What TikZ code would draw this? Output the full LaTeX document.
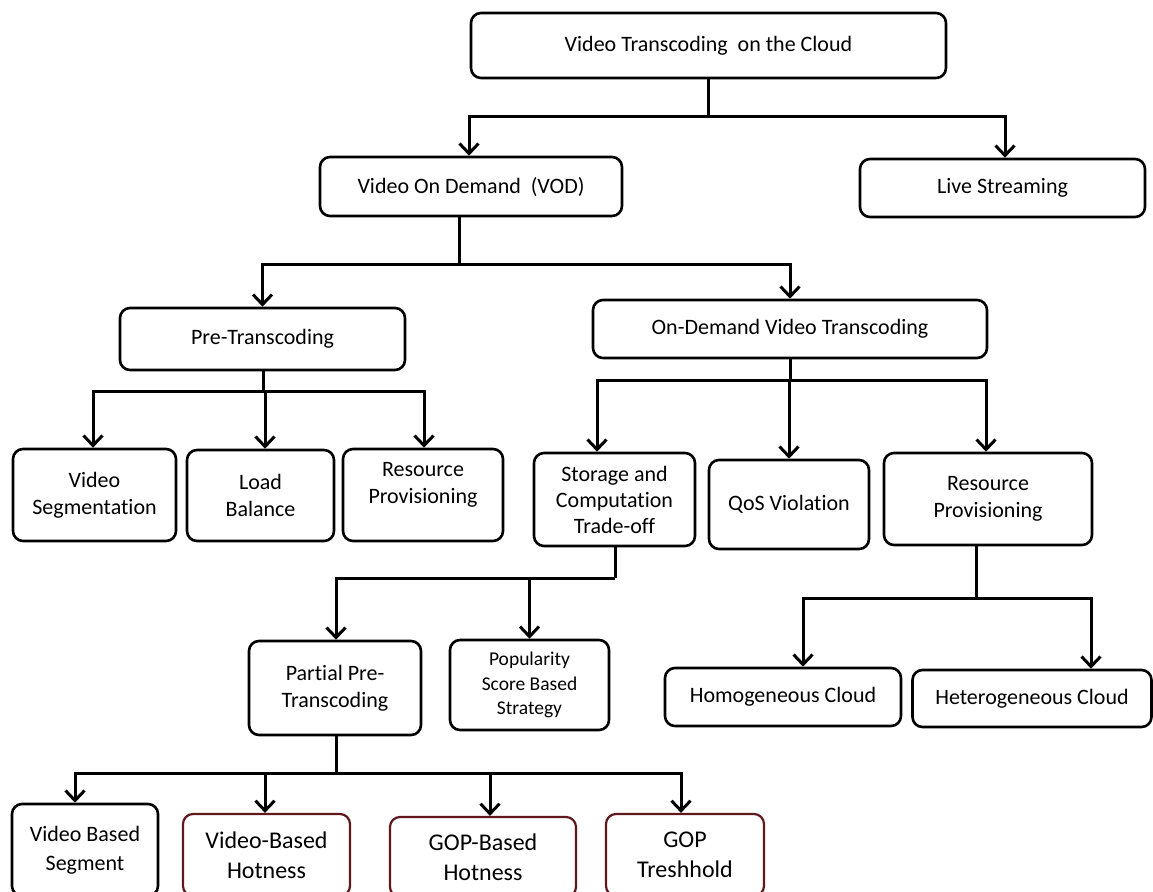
\documentclass[tikz,border=0pt]{standalone}
\usepackage{fontspec}
\setmainfont{Carlito}[Ligatures={NoCommon}]
\usetikzlibrary{arrows.meta}
\definecolor{boxred}{RGB}{95,25,30}
\tikzset{
  box/.style={draw=black, line width=2.6pt, rounded corners=10pt, align=center,
    inner sep=0pt, font=\fontsize{22}{27}\selectfont},
  redbox/.style={box, draw=boxred, line width=2.2pt},
  bigtxt/.style={font=\fontsize{24}{30}\selectfont},
  midtxt/.style={font=\fontsize{22}{29}\selectfont},
  smalltxt/.style={font=\fontsize{19.5}{24.5}\selectfont},
  conn/.style={line width=3pt},
  arr/.style={conn, -{Straight Barb[length=10pt,width=19pt,line width=3pt]}},
}
\begin{document}
\begin{tikzpicture}[x=1pt,y=-1pt]
\useasboundingbox (0,0) rectangle (1153,891);
\clip (0,0) rectangle (1153,891);
\fill[white] (0,0) rectangle (1153,891);

% nodes
\node[box, minimum width=475, minimum height=65] (root) at (708.5,45.5) {Video Transcoding~ on the Cloud};
\node[box, minimum width=302, minimum height=59] (vod) at (471,186.5) {Video On Demand~ (VOD)};
\node[box, minimum width=285, minimum height=58] (live) at (1002.5,188) {Live Streaming};
\node[box, minimum width=285, minimum height=62] (pre) at (262.5,339) {Pre-Transcoding};
\node[box, minimum width=394, minimum height=58] (odt) at (790,329) {On-Demand Video Transcoding};
\node[box, minimum width=163, minimum height=92] (vseg) at (94.5,495) {Video\\Segmentation};
\node[box, minimum width=147, minimum height=91] (load) at (260.5,495.5) {Load\\Balance};
\node[box, minimum width=160, minimum height=92] (resa) at (423,495) {Resource\\Provisioning\\[-10pt]\strut};
\node[box, minimum width=161, minimum height=93] (stor) at (614.5,499.5) {Storage and\\[-1pt]Computation\\[-1pt]Trade-off};
\node[box, minimum width=160, minimum height=89] (qos) at (789,504.5) {QoS Violation};
\node[box, minimum width=208, minimum height=92] (resb) at (988,499) {Resource\\Provisioning};
\node[box, minimum width=172, minimum height=94] (part) at (335,688) {Partial Pre-\\Transcoding};
\node[box, smalltxt, minimum width=159, minimum height=90] (pop) at (529.5,685) {Popularity\\Score Based\\Strategy};
\node[box, minimum width=236, minimum height=58] (homo) at (783,697) {Homogeneous Cloud};
\node[box, minimum width=239, minimum height=57] (het) at (1032,698.5) {Heterogeneous Cloud};
\node[box, midtxt, minimum width=146, minimum height=92] (vbs) at (85,850) {Video Based\\Segment};
\node[redbox, bigtxt, minimum width=167, minimum height=82] (vbh) at (266.5,855) {Video-Based\\Hotness};
\node[redbox, bigtxt, minimum width=186, minimum height=80] (gbh) at (483,857) {GOP-Based\\Hotness};
\node[redbox, bigtxt, minimum width=158, minimum height=82] (gth) at (685,855) {GOP\\Treshhold};

% junctions
\coordinate (j0) at (708,116);
\coordinate (j1) at (459,264);
\coordinate (j2) at (263,391);
\coordinate (j3) at (790,380);
\coordinate (j4) at (615,578);
\coordinate (j5) at (976,598);
\coordinate (j6) at (336,773);

% connectors
\draw[conn] (root.south -| j0) -- (j0);
\draw[arr] (j0) -| ([xshift=-2]vod.north);
\draw[arr] (j0) -| ([xshift=2.5]live.north);

\draw[conn] (vod.south -| j1) -- (j1);
\draw[arr] (j1) -| (pre.north);
\draw[arr] (j1) -| (odt.north);

\draw[conn] (pre.south -| j2) -- (j2);
\draw[arr] (j2) -| ([xshift=-1.5]vseg.north);
\draw[arr] (j2) -| ([xshift=4.5]load.north);
\draw[arr] (j2) -| ([xshift=1]resa.north);

\draw[conn] (odt.south -| j3) -- (j3);
\draw[arr] (j3) -| ([xshift=-17.5]stor.north);
\draw[arr] (j3) -| (qos.north);
\draw[arr] (j3) -| ([xshift=-2]resb.north);

\draw[conn] (stor.south -| j4) -- (j4);
\draw[arr] (j4) -| ([xshift=1]part.north);
\draw[arr] (j4) -| (pop.north);

\draw[conn] (resb.south -| j5) -- (j5);
\draw[arr] (j5) -| ([xshift=20]homo.north);
\draw[arr] (j5) -| ([xshift=59]het.north);

\draw[conn] (part.south -| j6) -- (j6);
\draw[arr] (j6) -| ([xshift=-10]vbs.north);
\draw[arr] (j6) -| ([xshift=-1.5]vbh.north);
\draw[arr] (j6) -| ([xshift=7]gbh.north);
\draw[arr] (j6) -| ([xshift=-4]gth.north);
\end{tikzpicture}
\end{document}
